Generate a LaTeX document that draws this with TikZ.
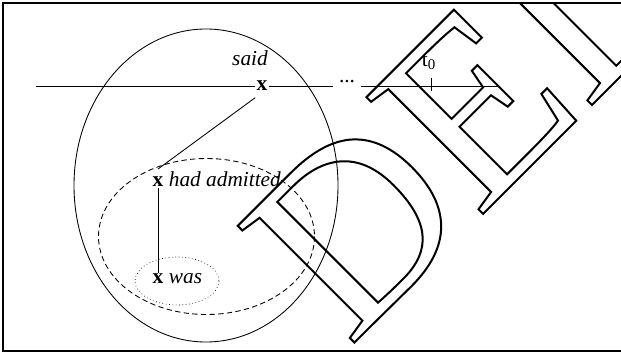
\documentclass[tikz,border=0pt]{standalone}
\usepackage{fontspec}
\setmainfont{Liberation Serif}
\usetikzlibrary{positioning}
\newcommand{\outlined}[1]{\special{pdf:literal direct 1 Tr 1.5 w}#1\special{pdf:literal direct 0 Tr}}
\tikzset{
	lbl/.style={inner sep=0.75pt, font=\fontsize{16}{19}\selectfont},
	itlbl/.style={lbl, font=\fontsize{16}{19}\selectfont\itshape},
	varx/.style={lbl, font=\fontsize{16}{19}\selectfont\bfseries},
	stamp/.style={rotate=45, anchor=base west, inner sep=0pt, font=\fontsize{189}{189}\selectfont}
}

\begin{document}
\begin{tikzpicture}[x=0.75pt,y=-0.75pt,line width=0.65pt]
	\useasboundingbox (0,0) rectangle (621,353);
	\draw[line width=0.9pt] (3,3) rectangle (626,351);
	% time line
	\coordinate (lstart) at (36,86);
	\coordinate (lend) at (500,86);
	\coordinate (tick) at (431,86);
	\node[varx] (xsaid) at (262,86) {x};%said
	\node[itlbl] (said) at (250,58) {said};
	\node[lbl, inner sep=4pt] (dots) at (347,82) {...};
	\node[lbl] (tzero) at (429,62) {t\textsubscript{0}};
	\draw (lstart) -- (xsaid.west |- lstart) (xsaid.east |- lstart) -- (dots.west |- lstart) (dots.east |- lstart) -- (lend);
	\draw ([yshift=6pt]tick) -- ([yshift=-4pt]tick);
	% embedded clauses
	\node[varx] (xhad) at (158,182) {x};%had admitted
	\node[itlbl, anchor=base west] (had) at ([xshift=2pt]xhad.base east) {had admitted};
	\node[varx] (xwas) at (158,279) {x};%was
	\node[itlbl, anchor=base west] (was) at ([xshift=2pt]xwas.base east) {was};
	\draw ([yshift=-4pt]xsaid.south west) -- ([yshift=5pt]xhad.north);
	\draw (xhad.south) -- (xwas.north);
	% domains
	\draw (206,185.5) ellipse (132 and 156.5);
	\draw[dash pattern=on 4pt off 2.5pt] (206.5,236.5) ellipse (108 and 78);
	\draw[dotted, line width=0.5pt] (177,281) ellipse (42 and 24);
	% stamp
	\begin{scope}
		\clip (3,3) rectangle (626,351);
		\node[stamp] (del) at (349,348) {\outlined{DEL}};
	\end{scope}
\end{tikzpicture}
\end{document}
